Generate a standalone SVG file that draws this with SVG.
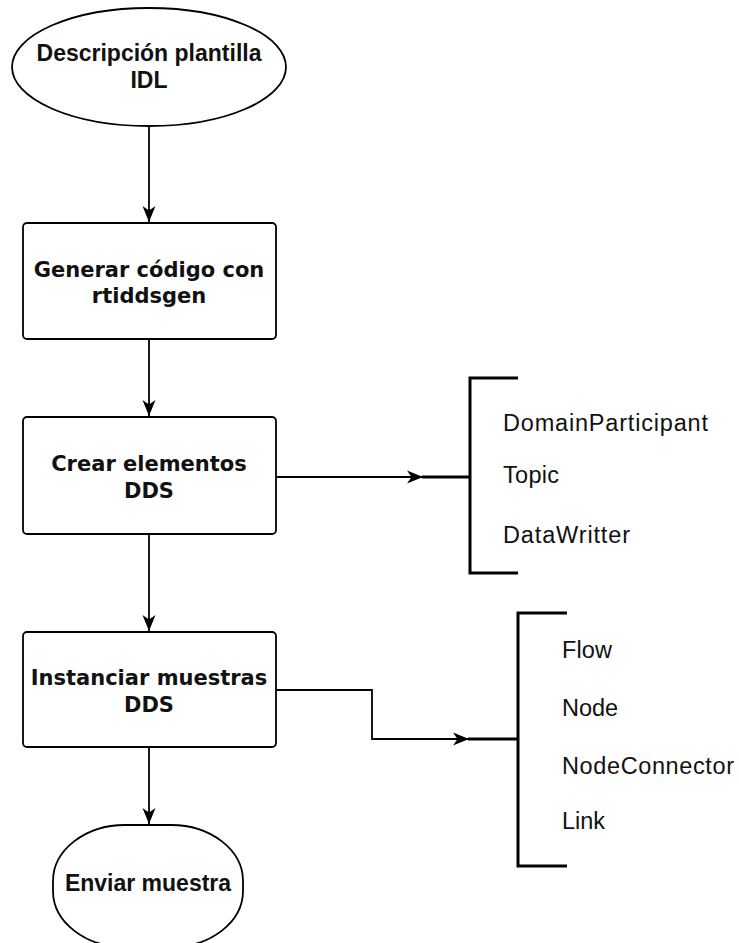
<svg xmlns="http://www.w3.org/2000/svg" width="739" height="943" viewBox="0 0 739 943">
  <style>
    .shape { fill: #ffffff; stroke: #000000; stroke-width: 1.8; }
    .edge { fill: none; stroke: #000000; stroke-width: 1.8; }
    .thick { fill: none; stroke: #000000; stroke-width: 3; }
    .lbl-sans { font-family: "Liberation Sans", Arial, sans-serif; font-weight: bold; font-size: 23px; fill: #111111; text-anchor: middle; }
    .lbl-dv { font-family: "DejaVu Sans", Verdana, sans-serif; font-weight: bold; font-size: 21px; fill: #111111; text-anchor: middle; }
    .item { font-family: "Liberation Sans", Arial, sans-serif; font-size: 23.5px; fill: #111111; }
  </style>
  <defs>
    <marker id="arrow" markerUnits="userSpaceOnUse" markerWidth="18" markerHeight="16" refX="16" refY="8" orient="auto">
      <path d="M0,1.5 L16,8 L0,14.5 L4.5,8 z" fill="#000000"/>
    </marker>
  </defs>

  <rect width="739" height="943" fill="#ffffff"/>

  <!-- connectors -->
  <g id="connectors">
    <line class="edge" x1="149" y1="126" x2="149" y2="222" marker-end="url(#arrow)"/>
    <line class="edge" x1="149" y1="339" x2="149" y2="416" marker-end="url(#arrow)"/>
    <line class="edge" x1="149" y1="534" x2="149" y2="631" marker-end="url(#arrow)"/>
    <line class="edge" x1="149" y1="747" x2="149" y2="824" marker-end="url(#arrow)"/>
    <line class="edge" x1="276" y1="477" x2="423" y2="477" marker-end="url(#arrow)"/>
    <polyline class="edge" points="276,690 372,690 372,739 469,739" marker-end="url(#arrow)"/>
  </g>

  <!-- start: IDL template description -->
  <g id="node-idl">
    <ellipse class="shape" cx="149" cy="67" rx="137" ry="59"/>
    <text class="lbl-sans" x="149" y="61">Descripción plantilla</text>
    <text class="lbl-sans" x="149" y="88">IDL</text>
  </g>

  <!-- code generation -->
  <g id="node-generar">
    <rect class="shape" x="23" y="223" width="253" height="116" rx="4"/>
    <text class="lbl-dv" x="149" y="277">Generar código con</text>
    <text class="lbl-dv" x="149" y="303">rtiddsgen</text>
  </g>

  <!-- create DDS entities -->
  <g id="node-crear">
    <rect class="shape" x="23" y="417" width="253" height="117" rx="4"/>
    <text class="lbl-dv" x="149" y="471">Crear elementos</text>
    <text class="lbl-dv" x="149" y="498">DDS</text>
  </g>

  <!-- instantiate DDS samples -->
  <g id="node-instanciar">
    <rect class="shape" x="23" y="632" width="253" height="115" rx="4"/>
    <text class="lbl-dv" x="149" y="685">Instanciar muestras</text>
    <text class="lbl-dv" x="149" y="712">DDS</text>
  </g>

  <!-- end: send sample -->
  <g id="node-enviar">
    <rect class="shape" x="53" y="825" width="190" height="122" rx="72" ry="56"/>
    <text class="lbl-sans" x="148" y="891">Enviar muestra</text>
  </g>

  <!-- DDS entities list -->
  <g id="node-entidades">
    <line class="thick" x1="422" y1="477" x2="470" y2="477"/>
    <path class="thick" d="M518,378 H470 V573 H518"/>
    <text class="item" x="503" y="431" textLength="205" lengthAdjust="spacing">DomainParticipant</text>
    <text class="item" x="503" y="483" textLength="56" lengthAdjust="spacing">Topic</text>
    <text class="item" x="503" y="543" textLength="127" lengthAdjust="spacing">DataWritter</text>
  </g>

  <!-- sample types list -->
  <g id="node-muestras">
    <line class="thick" x1="468" y1="739" x2="518" y2="739"/>
    <path class="thick" d="M567,613 H518 V866 H567"/>
    <text class="item" x="562" y="658" textLength="50" lengthAdjust="spacing">Flow</text>
    <text class="item" x="562" y="716" textLength="56" lengthAdjust="spacing">Node</text>
    <text class="item" x="562" y="774" textLength="172" lengthAdjust="spacing">NodeConnector</text>
    <text class="item" x="562" y="829" textLength="43" lengthAdjust="spacing">Link</text>
  </g>
</svg>
